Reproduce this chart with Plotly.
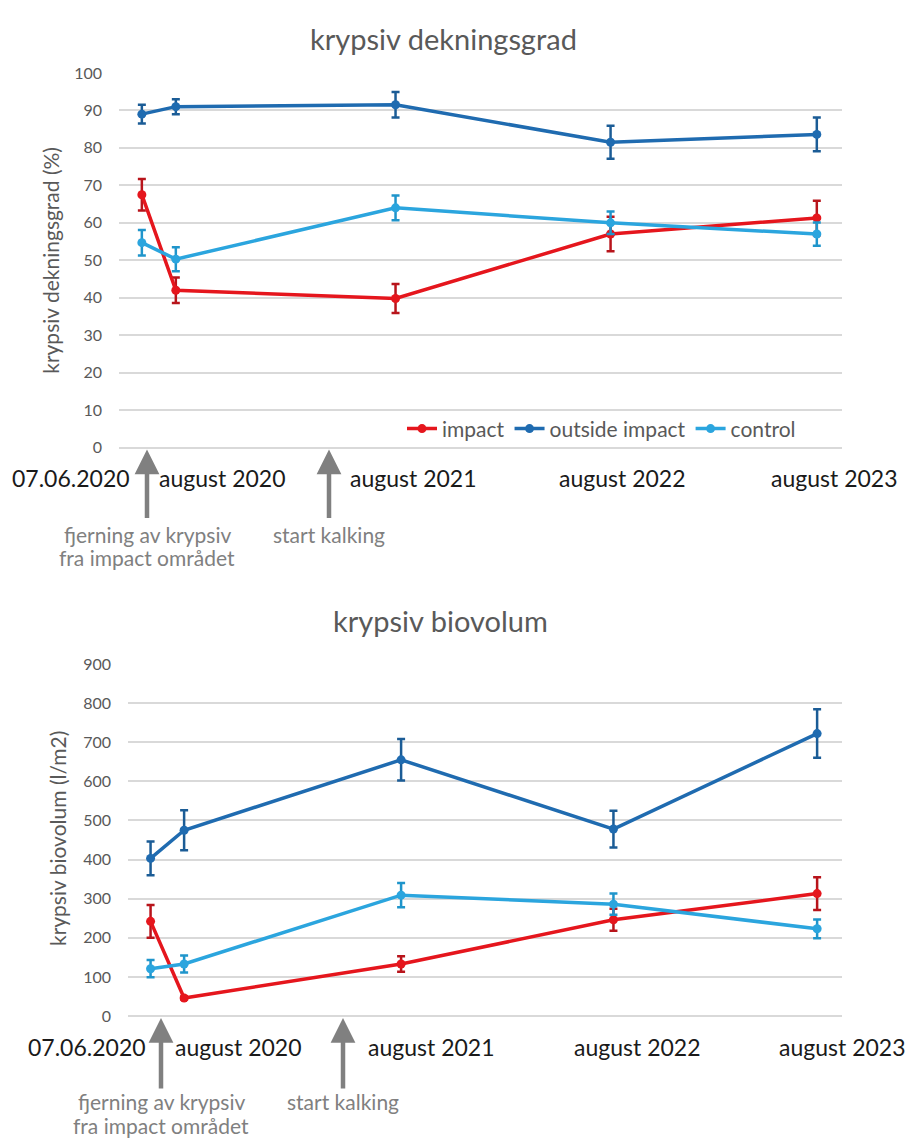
import plotly.graph_objects as go

# Sampling dates (shared by both panels)
dates = ["2020-06-07", "2020-08-04", "2021-08-14", "2022-08-16", "2023-08-03"]
period_labels = ["07.06.2020", "august 2020", "august 2021", "august 2022", "august 2023"]

series_names = ["impact", "outside impact", "control"]

# Krypsiv dekningsgrad (%) - mean and error
cover_impact = [67.5, 42.0, 39.8, 57.0, 61.3]
cover_impact_err = [4.2, 3.4, 3.9, 4.6, 4.6]
cover_outside = [89.0, 91.0, 91.5, 81.5, 83.6]
cover_outside_err = [2.5, 2.0, 3.4, 4.4, 4.5]
cover_control = [54.7, 50.3, 64.0, 60.0, 57.0]
cover_control_err = [3.4, 3.2, 3.3, 3.0, 3.1]

# Krypsiv biovolum (l/m2) - mean and error
vol_impact = [242, 46, 133, 246, 313]
vol_impact_err = [42, 4, 20, 28, 42]
vol_outside = [403, 475, 655, 478, 722]
vol_outside_err = [43, 51, 53, 47, 62]
vol_control = [121, 133, 309, 286, 223]
vol_control_err = [22, 22, 31, 27, 24]

# Event captions, one list entry per text line
event_lines = [["fjerning av krypsiv", "fra impact området"], ["start kalking"]]

line_colors = ["#E5161D", "#1F6BB0", "#2BA5DE"]
err_colors = ["#B8141B", "#1B5C96", "#1F95CB"]

W, H = 909, 1146
GRID = "#D9D9D9"
TXT = "#595959"
EVT = "#808080"
FONT = "Lato"

fig = go.Figure()

panels = [
    ("x", "y", [cover_impact, cover_outside, cover_control],
     [cover_impact_err, cover_outside_err, cover_control_err], True),
    ("x2", "y2", [vol_impact, vol_outside, vol_control],
     [vol_impact_err, vol_outside_err, vol_control_err], False),
]

for xa, ya, vals, errs, show_leg in panels:
    for name, v, e, lc, ec in zip(series_names, vals, errs, line_colors, err_colors):
        fig.add_trace(go.Scatter(
            x=dates, y=v, name=name, mode="lines+markers",
            xaxis=xa, yaxis=ya, showlegend=show_leg,
            line=dict(color=lc, width=3.5),
            marker=dict(color=lc, size=9),
            error_y=dict(type="data", array=e, visible=True,
                         color=ec, thickness=2.5, width=4),
        ))

x_range = ["2020-04-29", "2023-09-15"]
hidden_x = dict(range=x_range, type="date", showgrid=False, showticklabels=False,
                showline=False, zeroline=False, ticks="")
y_common = dict(showgrid=True, gridcolor=GRID, gridwidth=1.5, zeroline=True,
                zerolinecolor=GRID, zerolinewidth=1.5, showline=False, ticks="",
                tickfont=dict(family=FONT, size=16, color=TXT),
                ticklabelstandoff=16)

fig.update_layout(
    width=W, height=H,
    margin=dict(l=0, r=0, t=0, b=0),
    paper_bgcolor="white", plot_bgcolor="white",
    font=dict(family=FONT, color=TXT),
    xaxis=dict(domain=[119 / W, 842 / W], anchor="y", **hidden_x),
    yaxis=dict(domain=[1 - 445 / H, 1 - 64 / H], anchor="x",
               range=[0, 100], dtick=10, **y_common),
    xaxis2=dict(domain=[128 / W, 842 / W], anchor="y2", **hidden_x),
    yaxis2=dict(domain=[1 - 1023 / H, 1 - 665 / H], anchor="x2",
                range=[0, 900], dtick=100, **y_common),
    legend=dict(orientation="h", x=402 / W, y=1 - 426 / H, xanchor="left",
                yanchor="middle", bgcolor="rgba(0,0,0,0)",
                font=dict(family=FONT, size=21, color=TXT),
                itemwidth=30, tracegroupgap=0),
    showlegend=True,
)

ann = []

# Panel titles
for text, xc, yc in [("krypsiv dekningsgrad", 443, 29), ("krypsiv biovolum", 440, 621)]:
    ann.append(dict(text=text, x=xc / W, y=1 - yc / H, xref="paper", yref="paper",
                    showarrow=False, xanchor="center", yanchor="middle",
                    font=dict(family=FONT, size=29, color=TXT)))

# Y-axis titles
for text, xc, yc, fs in [("krypsiv dekningsgrad (%)", 51, 255, 21),
                         ("krypsiv biovolum (l/m2)", 57, 842, 21)]:
    ann.append(dict(text=text, x=xc / W, y=1 - yc / H, xref="paper", yref="paper",
                    showarrow=False, textangle=-90, xanchor="center", yanchor="middle",
                    font=dict(family=FONT, size=fs, color=TXT)))

# Period labels under each panel
label_rows = [
    (476, [71, 222, 413, 622, 834]),
    (1054, [87, 238, 431, 637, 842]),
]
for yc, xs in label_rows:
    for text, xc in zip(period_labels, xs):
        ann.append(dict(text=text, x=xc / W, y=1 - yc / H, xref="paper", yref="paper",
                        showarrow=False, xanchor="center", yanchor="middle",
                        font=dict(family=FONT, size=23, color="#1A1A1A")))

# Event arrows (tip y, tail y) and caption lines
event_rows = [
    (447, 517, [147, 329], 533, 24),
    (1025, 1097, [161, 343], 1110, 24),
]
for tip_y, tail_y, xs, text_y, line_gap in event_rows:
    for lines, xc in zip(event_lines, xs):
        ann.append(dict(text="", x=xc / W, y=1 - tip_y / H, xref="paper", yref="paper",
                        showarrow=True, ax=0, ay=tail_y - tip_y,
                        arrowhead=2, arrowsize=1.1, arrowwidth=4.5, arrowcolor=EVT,
                        standoff=0, startstandoff=0))
        for i, line in enumerate(lines):
            ann.append(dict(text=line, x=xc / W, y=1 - (text_y + i * line_gap) / H,
                            xref="paper", yref="paper", showarrow=False,
                            xanchor="center", yanchor="middle", borderpad=0,
                            font=dict(family=FONT, size=21, color=EVT)))

fig.update_layout(annotations=ann)

fig.write_html("out.html")
